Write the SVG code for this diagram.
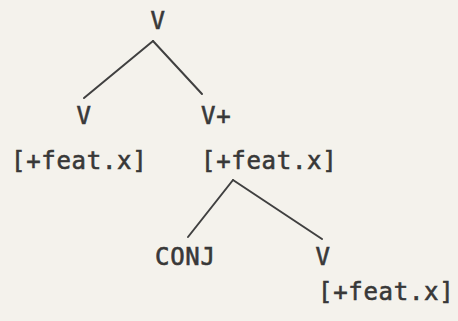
<svg xmlns="http://www.w3.org/2000/svg" width="458" height="321" viewBox="0 0 458 321">
<style>
.t{font-family:"DejaVu Sans Mono","Liberation Mono",monospace;font-size:24px;fill:#383838;stroke:#383838;stroke-width:0.6px;letter-spacing:0.7px}
.c{text-anchor:middle}
.e{stroke:#404040;stroke-width:2;fill:none;stroke-linecap:round}
</style>
<rect width="458" height="321" fill="#f4f2ec"/>
<g id="connectors">
<line class="e" x1="153" y1="41" x2="84" y2="98"/>
<line class="e" x1="153" y1="41" x2="202" y2="94"/>
<line class="e" x1="233" y1="180" x2="188" y2="237"/>
<line class="e" x1="233" y1="180" x2="322" y2="239"/>
</g>
<g id="n-root"><text class="t c" x="158" y="29">V</text></g>
<g id="n-v-left"><text class="t c" x="84" y="124">V</text><text class="t" x="11" y="169">[+feat.x]</text></g>
<g id="n-vplus"><text class="t" x="201" y="124">V+</text><text class="t" x="201" y="169">[+feat.x]</text></g>
<g id="n-conj"><text class="t" x="155" y="265">CONJ</text></g>
<g id="n-v-right"><text class="t c" x="323" y="265">V</text><text class="t" x="318" y="300">[+feat.x]</text></g>
</svg>
